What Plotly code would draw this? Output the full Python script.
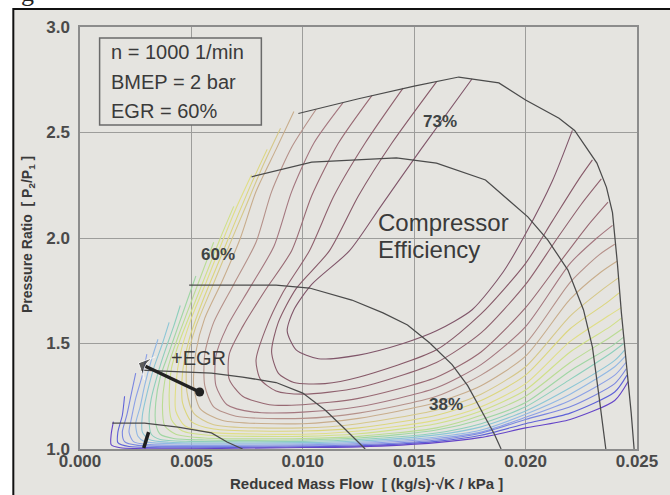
import plotly.graph_objects as go

# ---------------- data ----------------
x_ticks = [0.0, 0.005, 0.010, 0.015, 0.020, 0.025]
x_tick_text = ["0.000", "0.005", "0.010", "0.015", "0.020", "0.025"]
y_ticks = [1.0, 1.5, 2.0, 2.5, 3.0]
y_tick_text = ["1.0", "1.5", "2.0", "2.5", "3.0"]

# constant-speed lines (reduced mass flow, pressure ratio)
speed_1_x = [0.0098, 0.0125, 0.0150, 0.0170, 0.0188, 0.0200, 0.0215, 0.0222, 0.0232, 0.02363, 0.0239, 0.02412, 0.0243, 0.02452, 0.02474, 0.02487]
speed_1_y = [2.59, 2.66, 2.72, 2.763, 2.735, 2.654, 2.568, 2.51, 2.355, 2.24, 2.12, 1.88, 1.645, 1.41, 1.17, 1.0]
speed_2_x = [0.0077, 0.0104, 0.0142, 0.0160, 0.0182, 0.0201, 0.0210, 0.0219, 0.0226, 0.0230, 0.0233, 0.0236]
speed_2_y = [2.29, 2.36, 2.38, 2.355, 2.275, 2.10, 1.99, 1.848, 1.659, 1.483, 1.246, 1.0]
speed_3_x = [0.0049, 0.0088, 0.0103, 0.0122, 0.0136, 0.0147, 0.0157, 0.0167, 0.0174, 0.0181, 0.0186, 0.0189]
speed_3_y = [1.777, 1.777, 1.763, 1.706, 1.645, 1.588, 1.502, 1.40, 1.30, 1.17, 1.07, 1.0]
speed_4_x = [0.00273, 0.0044, 0.0059, 0.0073, 0.0088, 0.0100, 0.0110, 0.0118, 0.0125, 0.0128]
speed_4_y = [1.374, 1.365, 1.36, 1.341, 1.315, 1.265, 1.185, 1.104, 1.03, 1.0]
speed_5_x = [0.00145, 0.0029, 0.0044, 0.0059, 0.0066, 0.0073]
speed_5_y = [1.123, 1.123, 1.104, 1.076, 1.033, 1.0]

# compressor efficiency iso-lines, highest efficiency first: (mass flow, pressure ratio)
iso_01 = [(0.0176, 2.755), (0.0153, 2.42), (0.0135, 2.15), (0.0121, 1.94), (0.0104, 1.78), (0.0096, 1.66), (0.0093, 1.56), (0.0097, 1.47), (0.0107, 1.428), (0.0125, 1.445), (0.0145, 1.50), (0.0160, 1.56), (0.0176, 1.66), (0.0190, 1.84), (0.0200, 2.02), (0.0212, 2.27), (0.0221, 2.51)]
iso_02 = [(0.0160, 2.74), (0.0140, 2.45), (0.0125, 2.20), (0.0112, 1.94), (0.0097, 1.76), (0.0089, 1.60), (0.0086, 1.46), (0.0089, 1.36), (0.0096, 1.315), (0.0110, 1.31), (0.0125, 1.34), (0.0160, 1.47), (0.0180, 1.64), (0.0200, 1.88), (0.0212, 2.08), (0.0224, 2.28), (0.0230, 2.37)]
iso_03 = [(0.0145, 2.71), (0.0128, 2.45), (0.0114, 2.20), (0.0103, 1.94), (0.0091, 1.74), (0.0083, 1.56), (0.0079, 1.42), (0.0081, 1.33), (0.0088, 1.275), (0.0100, 1.26), (0.0125, 1.29), (0.0160, 1.41), (0.0180, 1.55), (0.0200, 1.78), (0.0213, 1.98), (0.0225, 2.16), (0.0234, 2.28)]
iso_04 = [(0.0131, 2.675), (0.0116, 2.45), (0.0104, 2.20), (0.0095, 1.94), (0.0083, 1.75), (0.0073, 1.58), (0.0067, 1.45), (0.0067, 1.33), (0.0073, 1.25), (0.0085, 1.21), (0.0100, 1.21), (0.0125, 1.24), (0.0160, 1.34), (0.0180, 1.46), (0.0200, 1.67), (0.0215, 1.88), (0.0228, 2.06), (0.0237, 2.17)]
iso_05 = [(0.0118, 2.64), (0.0105, 2.45), (0.0095, 2.22), (0.0087, 1.96), (0.0076, 1.76), (0.0066, 1.58), (0.0061, 1.44), (0.0061, 1.30), (0.0066, 1.21), (0.0078, 1.175), (0.0100, 1.175), (0.0125, 1.20), (0.0160, 1.29), (0.0180, 1.40), (0.0200, 1.58), (0.0220, 1.88), (0.0232, 2.00), (0.0239, 2.06)]
iso_06 = [(0.0106, 2.61), (0.0095, 2.43), (0.0086, 2.22), (0.0079, 1.98), (0.0069, 1.78), (0.0060, 1.60), (0.0056, 1.45), (0.0056, 1.30), (0.0060, 1.20), (0.0070, 1.155), (0.0100, 1.145), (0.0125, 1.17), (0.0160, 1.25), (0.0180, 1.35), (0.0200, 1.50), (0.0220, 1.79), (0.0233, 1.92), (0.0240, 1.97)]
iso_07 = [(0.0096, 2.60), (0.0088, 2.42), (0.0079, 2.22), (0.0072, 2.00), (0.0064, 1.80), (0.0056, 1.62), (0.0052, 1.46), (0.0051, 1.30), (0.0054, 1.19), (0.0064, 1.135), (0.0100, 1.12), (0.0125, 1.145), (0.0160, 1.22), (0.0180, 1.30), (0.0200, 1.44), (0.0220, 1.71), (0.0234, 1.84), (0.0241, 1.89)]
iso_08 = [(0.0090, 2.52), (0.0082, 2.34), (0.0074, 2.14), (0.0066, 1.94), (0.0059, 1.76), (0.0052, 1.58), (0.0048, 1.42), (0.0048, 1.27), (0.0051, 1.17), (0.0060, 1.115), (0.0100, 1.10), (0.0125, 1.12), (0.0160, 1.185), (0.0180, 1.26), (0.0200, 1.39), (0.0220, 1.63), (0.0235, 1.76), (0.02415, 1.81)]
iso_09 = [(0.0084, 2.42), (0.0077, 2.26), (0.0069, 2.06), (0.0062, 1.88), (0.0055, 1.70), (0.0049, 1.52), (0.0046, 1.36), (0.0046, 1.22), (0.0050, 1.13), (0.0060, 1.095), (0.0100, 1.085), (0.0125, 1.10), (0.0160, 1.16), (0.0180, 1.23), (0.0200, 1.35), (0.0220, 1.57), (0.0236, 1.69), (0.0242, 1.74)]
iso_10 = [(0.0077, 2.30), (0.0070, 2.14), (0.0063, 1.96), (0.0057, 1.80), (0.0050, 1.62), (0.0045, 1.45), (0.0043, 1.30), (0.0043, 1.18), (0.0047, 1.11), (0.0058, 1.08), (0.0100, 1.07), (0.0125, 1.085), (0.0160, 1.137), (0.0180, 1.20), (0.0200, 1.31), (0.0220, 1.51), (0.0237, 1.63), (0.0243, 1.67)]
iso_11 = [(0.0069, 2.15), (0.0063, 2.00), (0.0057, 1.84), (0.0051, 1.68), (0.0045, 1.52), (0.0041, 1.38), (0.0040, 1.25), (0.0041, 1.14), (0.0046, 1.085), (0.0058, 1.065), (0.0100, 1.06), (0.0125, 1.072), (0.0160, 1.12), (0.0180, 1.18), (0.0200, 1.28), (0.0220, 1.46), (0.0238, 1.58), (0.0243, 1.62)]
iso_12 = [(0.0060, 1.98), (0.0055, 1.84), (0.0050, 1.70), (0.0045, 1.56), (0.0041, 1.44), (0.0038, 1.32), (0.0037, 1.20), (0.0038, 1.11), (0.0043, 1.07), (0.0056, 1.052), (0.0100, 1.05), (0.0125, 1.06), (0.0160, 1.10), (0.0180, 1.16), (0.0200, 1.25), (0.0220, 1.41), (0.0238, 1.53), (0.02435, 1.57)]
iso_13 = [(0.0052, 1.82), (0.0048, 1.70), (0.0044, 1.58), (0.0040, 1.46), (0.0036, 1.34), (0.0034, 1.22), (0.0034, 1.12), (0.0036, 1.07), (0.0042, 1.05), (0.0056, 1.043), (0.0100, 1.043), (0.0125, 1.052), (0.0160, 1.09), (0.0180, 1.14), (0.0200, 1.22), (0.0220, 1.37), (0.0239, 1.49), (0.0244, 1.53)]
iso_14 = [(0.0045, 1.68), (0.0042, 1.58), (0.0038, 1.46), (0.0035, 1.36), (0.0032, 1.24), (0.0031, 1.14), (0.0032, 1.07), (0.0036, 1.045), (0.0050, 1.036), (0.0100, 1.036), (0.0125, 1.045), (0.0160, 1.076), (0.0180, 1.12), (0.0200, 1.20), (0.0220, 1.33), (0.0239, 1.46), (0.0244, 1.50)]
iso_15 = [(0.0040, 1.60), (0.0037, 1.50), (0.0033, 1.38), (0.0030, 1.26), (0.0028, 1.16), (0.0028, 1.08), (0.0031, 1.045), (0.0040, 1.032), (0.0100, 1.03), (0.0125, 1.038), (0.0160, 1.067), (0.0180, 1.105), (0.0200, 1.18), (0.0220, 1.29), (0.0240, 1.42), (0.02445, 1.47)]
iso_16 = [(0.0035, 1.52), (0.0032, 1.42), (0.0029, 1.30), (0.0027, 1.20), (0.0025, 1.12), (0.0026, 1.06), (0.0029, 1.035), (0.0040, 1.026), (0.0100, 1.025), (0.0125, 1.032), (0.0160, 1.057), (0.0180, 1.09), (0.0200, 1.165), (0.0220, 1.26), (0.0240, 1.39), (0.02448, 1.44)]
iso_17 = [(0.0030, 1.45), (0.0028, 1.35), (0.0025, 1.24), (0.0023, 1.14), (0.0022, 1.08), (0.0024, 1.035), (0.0030, 1.022), (0.0100, 1.02), (0.0125, 1.026), (0.0160, 1.05), (0.0180, 1.08), (0.0200, 1.15), (0.0220, 1.23), (0.0240, 1.35), (0.0245, 1.41)]
iso_18 = [(0.0025, 1.36), (0.0023, 1.26), (0.0021, 1.16), (0.0019, 1.08), (0.0020, 1.035), (0.0026, 1.017), (0.0100, 1.015), (0.0125, 1.02), (0.0160, 1.043), (0.0180, 1.075), (0.0200, 1.14), (0.0220, 1.20), (0.0240, 1.31), (0.02452, 1.38)]
iso_19 = [(0.0020, 1.25), (0.0019, 1.16), (0.0017, 1.08), (0.0017, 1.03), (0.0022, 1.012), (0.0100, 1.011), (0.0125, 1.015), (0.0160, 1.036), (0.0180, 1.065), (0.0200, 1.12), (0.0220, 1.17), (0.0240, 1.27), (0.02455, 1.35)]
iso_20 = [(0.0015, 1.13), (0.0014, 1.07), (0.0014, 1.02), (0.0018, 1.006), (0.0100, 1.007), (0.0125, 1.01), (0.0160, 1.03), (0.0180, 1.055), (0.0200, 1.10), (0.0220, 1.14), (0.0240, 1.23), (0.0246, 1.32)]

# EGR shift of the operating point (from -> to) and the operating point marker
egr_path_x = [0.00537, 0.00262]
egr_path_y = [1.27, 1.408]
op_marker_x = [0.00308, 0.00286]
op_marker_y = [1.08, 1.005]

info_lines = ["n = 1000 1/min", "BMEP = 2 bar", "EGR = 60%"]

# ---------------- styling ----------------
iso_lines = [iso_01, iso_02, iso_03, iso_04, iso_05, iso_06, iso_07, iso_08, iso_09, iso_10,
             iso_11, iso_12, iso_13, iso_14, iso_15, iso_16, iso_17, iso_18, iso_19, iso_20]
iso_colors = ["#80566a", "#875a69", "#8f616e", "#986973", "#a4777f", "#b5918a", "#c8ad8c",
              "#d6c889", "#dcd67e", "#e0de86", "#d0e088", "#badc94", "#a0d6a4", "#8ecfbc",
              "#8cc6d6", "#92b8e4", "#8ca0e6", "#7a86e0", "#5f62d8", "#6444c8"]
SPEED_COLOR = "#4b4b4b"
BG = "#e5e4e0"
TXT = "#3a3a3a"
FONT = "Liberation Sans, Arial, sans-serif"

# plot-area pixel geometry (for paper-coordinate placement of decorations)
L, R, T, B = 80, 22, 27, 46
W, H = 670, 495
PW, PH = W - L - R, H - T - B


def px(xp):
    return (xp - L) / PW


def py(yp):
    return (H - B - yp) / PH


fig = go.Figure()

for pts, col in zip(iso_lines, iso_colors):
    fig.add_trace(go.Scatter(
        x=[p[0] for p in pts], y=[p[1] for p in pts], mode="lines",
        line=dict(color=col, width=1.1, shape="spline", smoothing=0.7),
        hoverinfo="skip"))

for sx, sy in [(speed_1_x, speed_1_y), (speed_2_x, speed_2_y), (speed_3_x, speed_3_y),
               (speed_4_x, speed_4_y), (speed_5_x, speed_5_y)]:
    fig.add_trace(go.Scatter(x=sx, y=sy, mode="lines",
                             line=dict(color=SPEED_COLOR, width=1.25), hoverinfo="skip"))

# operating point stroke
fig.add_trace(go.Scatter(x=op_marker_x, y=op_marker_y, mode="lines",
                         line=dict(color="#1e1e1e", width=3.5), hoverinfo="skip"))

# EGR arrow: shaft with an arrowhead at the tip, dot at the tail
fig.add_trace(go.Scatter(
    x=egr_path_x, y=egr_path_y, mode="lines+markers",
    line=dict(color="#222222", width=3.5),
    marker=dict(symbol="arrow-wide", size=[0, 18], angleref="previous", color="#222222"),
    hoverinfo="skip"))
fig.add_trace(go.Scatter(
    x=egr_path_x[:1], y=egr_path_y[:1], mode="markers",
    marker=dict(symbol="circle", size=9, color="#222222"), hoverinfo="skip"))

# frame of the slide
fig.add_shape(type="rect", xref="paper", yref="paper",
              x0=px(12), x1=px(700), y0=py(520), y1=py(9),
              fillcolor=BG, line=dict(color="#111111", width=2), layer="below")

# operating-condition box
fig.add_shape(type="rect", xref="x", yref="y", x0=0.00088, x1=0.00814, y0=2.536, y1=2.948,
              fillcolor=BG, line=dict(color="#6a6a6a", width=1.5), layer="above")
for txt, yv in zip(info_lines, [2.882, 2.739, 2.602]):
    fig.add_annotation(x=0.00132, y=yv, xref="x", yref="y", text=txt, showarrow=False,
                       xanchor="left", yanchor="middle",
                       font=dict(family=FONT, size=20, color=TXT))

# efficiency labels
for txt, xv, yv in [("73%", 0.01616, 2.55), ("60%", 0.0062, 1.924), ("38%", 0.01642, 1.209)]:
    fig.add_annotation(x=xv, y=yv, xref="x", yref="y", text=txt, showarrow=False,
                       xanchor="center", yanchor="middle",
                       font=dict(family=FONT, size=17, color="#3f4545", weight="bold"))

fig.add_annotation(x=0.01329, y=2.072, xref="x", yref="y", text="Compressor",
                   showarrow=False, xanchor="left", yanchor="middle",
                   font=dict(family=FONT, size=24, color=TXT))
fig.add_annotation(x=0.01329, y=1.944, xref="x", yref="y", text="Efficiency",
                   showarrow=False, xanchor="left", yanchor="middle",
                   font=dict(family=FONT, size=24, color=TXT))
fig.add_annotation(x=0.005326, y=1.431, xref="x", yref="y", text="+EGR",
                   showarrow=False, xanchor="center", yanchor="middle",
                   font=dict(family=FONT, size=20, color=TXT))

# axis titles
fig.add_annotation(x=px(372), y=py(483), xref="paper", yref="paper",
                   xanchor="center", yanchor="middle",
                   text="Reduced Mass Flow  [ (kg/s)·√K / kPa ]", showarrow=False,
                   font=dict(family=FONT, size=15, color=TXT, weight="bold"))
fig.add_annotation(x=px(27), y=py(235), xref="paper", yref="paper", textangle=-90,
                   xanchor="center", yanchor="middle",
                   text="Pressure Ratio  [ P<sub>2</sub>/P<sub>1</sub> ]", showarrow=False,
                   font=dict(family=FONT, size=14, color=TXT, weight="bold"))

# clipped glyph above the slide frame
fig.add_annotation(x=px(18), y=py(9), xref="paper", yref="paper", text="g",
                   showarrow=False, yanchor="bottom",
                   font=dict(family="Liberation Serif, serif", size=26, color="#222222"))

axis_common = dict(showgrid=True, gridcolor="#9d9d9b", gridwidth=1.2, zeroline=False,
                   showline=True, mirror=True, linecolor="#8c8c8c", linewidth=1.5,
                   ticks="", tickfont=dict(family=FONT, size=17, color="#4a4a4a", weight="bold"))

fig.update_xaxes(range=[0, 0.025], tickvals=x_ticks, ticktext=x_tick_text,
                 ticklabelstandoff=-4, **axis_common)
fig.update_yaxes(range=[1.0, 3.0], tickvals=y_ticks, ticktext=y_tick_text,
                 ticklabelstandoff=5, **axis_common)

fig.update_layout(width=W, height=H, margin=dict(l=L, r=R, t=T, b=B),
                  paper_bgcolor="white", plot_bgcolor="rgba(0,0,0,0)",
                  showlegend=False)

fig.write_html("out.html")
